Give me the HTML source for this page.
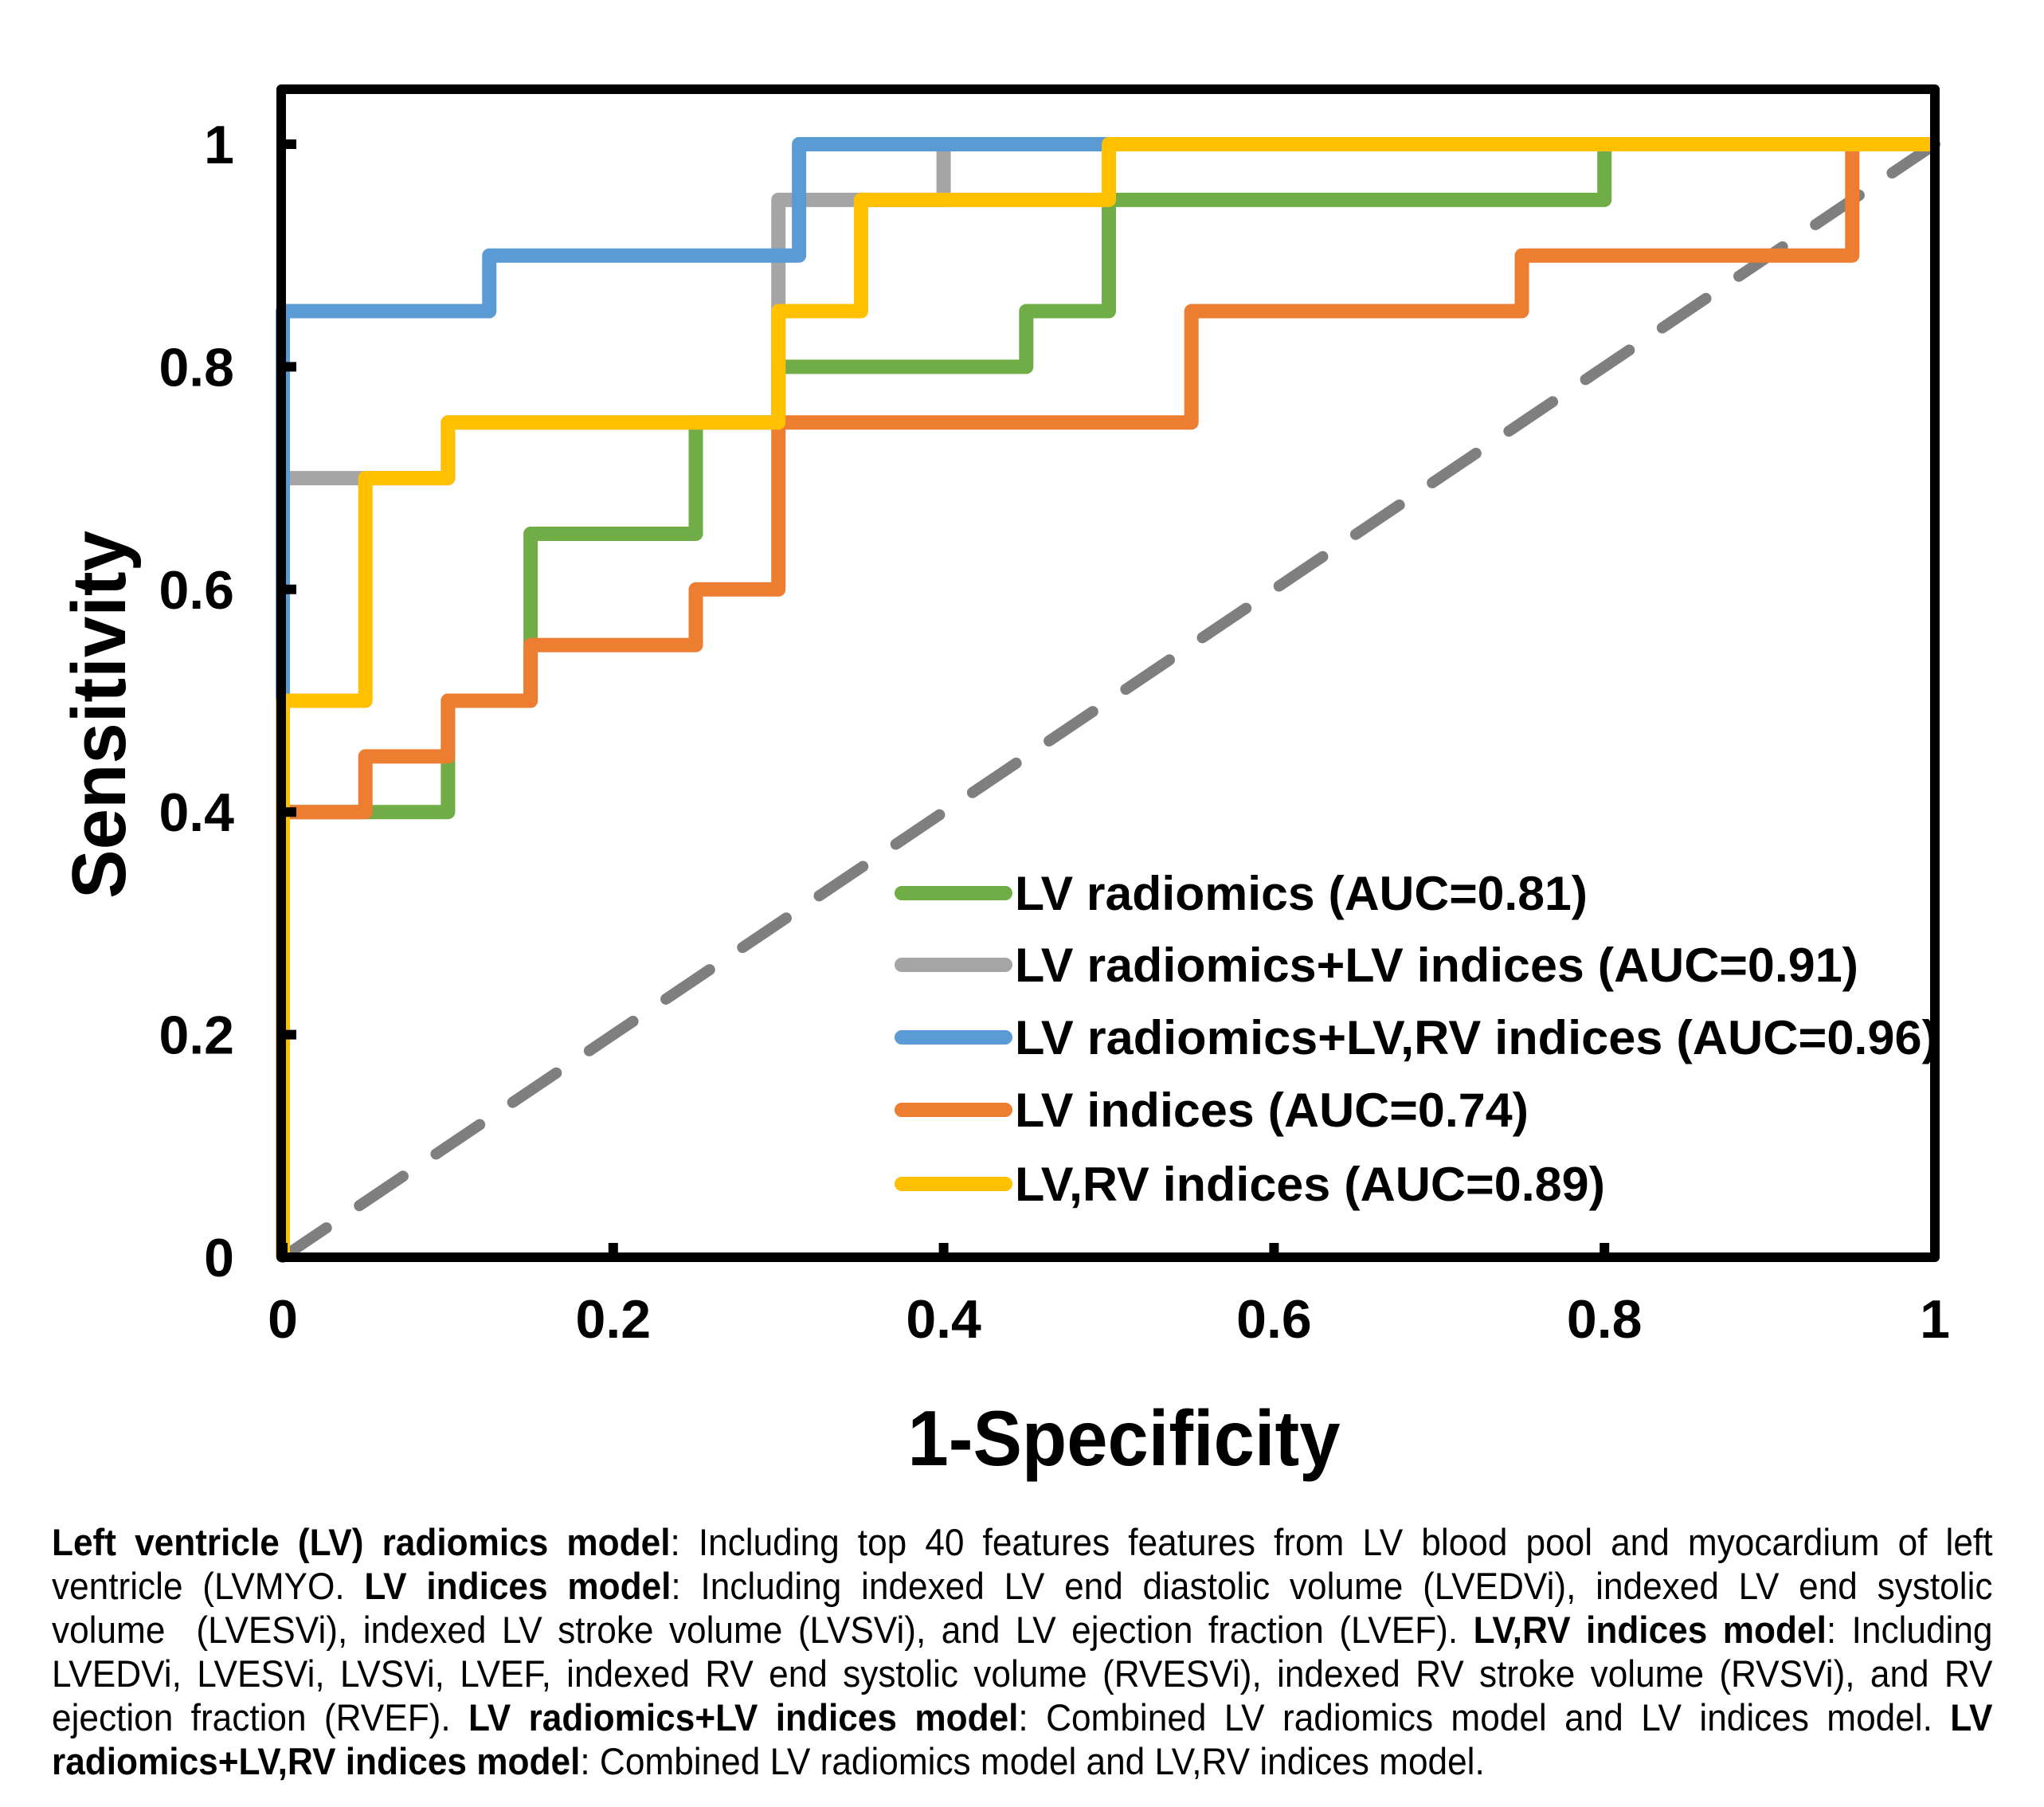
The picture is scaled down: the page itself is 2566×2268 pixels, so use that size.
<!DOCTYPE html>
<html><head><meta charset="utf-8">
<style>
html,body{margin:0;padding:0;background:#fff;}
body{width:2566px;height:2268px;position:relative;overflow:hidden;font-family:"Liberation Sans",Arial,sans-serif;}
#chart{position:absolute;left:0;top:0;}
.cap{position:absolute;left:65px;width:2592px;font-size:47px;line-height:55px;height:55px;text-align:justify;text-align-last:justify;white-space:nowrap;overflow:visible;color:#000;transform:scale(0.94,1);transform-origin:0 0;}
.cap.last{text-align-last:left;text-align:left;}
</style></head>
<body>
<svg id="chart" width="2566" height="1900" xmlns="http://www.w3.org/2000/svg"></svg>

<div class="cap" style="top:1908px"><b>Left ventricle (LV) radiomics model</b>: Including top 40 features features from LV blood pool and myocardium of left</div>
<div class="cap" style="top:1963px">ventricle (LVMYO. <b>LV indices model</b>: Including indexed LV end diastolic volume (LVEDVi), indexed LV end systolic</div>
<div class="cap" style="top:2018px">volume &nbsp;(LVESVi), indexed LV stroke volume (LVSVi), and LV ejection fraction (LVEF). <b>LV,RV indices model</b>: Including</div>
<div class="cap" style="top:2073px">LVEDVi, LVESVi, LVSVi, LVEF, indexed RV end systolic volume (RVESVi), indexed RV stroke volume (RVSVi), and RV</div>
<div class="cap" style="top:2128px">ejection fraction (RVEF). <b>LV radiomics+LV indices model</b>: Combined LV radiomics model and LV indices model. <b>LV</b></div>
<div class="cap last" style="top:2183px"><b>radiomics+LV,RV indices model</b>: Combined LV radiomics model and LV,RV indices model.</div>

<script>
const xTicks = [0, 0.2, 0.4, 0.6, 0.8, 1];
const yTicks = [0, 0.2, 0.4, 0.6, 0.8, 1];
const xTickLabels = ["0", "0.2", "0.4", "0.6", "0.8", "1"];
const yTickLabels = ["0", "0.2", "0.4", "0.6", "0.8", "1"];
const seriesNames = ["LV radiomics (AUC=0.81)", "LV radiomics+LV indices (AUC=0.91)", "LV radiomics+LV,RV indices (AUC=0.96)", "LV indices (AUC=0.74)", "LV,RV indices (AUC=0.89)"];
const seriesColors = ["#70AD47", "#A5A5A5", "#5B9BD5", "#ED7D31", "#FFC000"];
const greenFpr = [0, 0, 0.1, 0.1, 0.15, 0.15, 0.25, 0.25, 0.3, 0.3, 0.45, 0.45, 0.5, 0.5, 0.8, 0.8, 1];
const greenTpr = [0, 0.4, 0.4, 0.5, 0.5, 0.65, 0.65, 0.75, 0.75, 0.8, 0.8, 0.85, 0.85, 0.95, 0.95, 1, 1];
const grayFpr = [0, 0, 0.05, 0.1, 0.1, 0.3, 0.3, 0.4, 0.4, 1];
const grayTpr = [0, 0.7, 0.7, 0.7, 0.75, 0.75, 0.95, 0.95, 1, 1];
const blueFpr = [0, 0, 0.125, 0.125, 0.3125, 0.3125, 1];
const blueTpr = [0, 0.85, 0.85, 0.9, 0.9, 1, 1];
const orangeFpr = [0, 0, 0.05, 0.05, 0.1, 0.1, 0.15, 0.15, 0.25, 0.25, 0.3, 0.3, 0.55, 0.55, 0.75, 0.75, 0.95, 0.95, 1];
const orangeTpr = [0, 0.4, 0.4, 0.45, 0.45, 0.5, 0.5, 0.55, 0.55, 0.6, 0.6, 0.75, 0.75, 0.85, 0.85, 0.9, 0.9, 1, 1];
const yellowFpr = [0, 0, 0.05, 0.05, 0.1, 0.1, 0.3, 0.3, 0.35, 0.35, 0.5, 0.5, 1];
const yellowTpr = [0, 0.5, 0.5, 0.7, 0.7, 0.75, 0.75, 0.85, 0.85, 0.95, 0.95, 1, 1];
const diagX = [0, 1];
const diagY = [0, 1];

const svg = document.getElementById('chart');
const NS = 'http://www.w3.org/2000/svg';
const X0 = 355, X1 = 2429, Y0 = 1578, Y1 = 181;
function sx(v){ return X0 + v * (X1 - X0); }
function sy(v){ return Y0 - v * (Y0 - Y1); }
function mk(tag, attrs){ const e = document.createElementNS(NS, tag); for (const k in attrs) e.setAttribute(k, attrs[k]); return e; }

const diag = mk('polyline', {points: diagX.map((x,i)=>sx(x)+','+sy(diagY[i])).join(' '), fill:'none', stroke:'#7F7F7F', 'stroke-width':14, 'stroke-dasharray':'66 50', 'stroke-linecap':'round'});


svg.appendChild(diag);

const xs = [greenFpr, grayFpr, blueFpr, orangeFpr, yellowFpr];
const ys = [greenTpr, grayTpr, blueTpr, orangeTpr, yellowTpr];
const lineNames = ['lv-radiomics-curve', 'lv-radiomics-lv-indices-curve', 'lv-radiomics-lv-rv-indices-curve', 'lv-indices-curve', 'lv-rv-indices-curve'];
for (let s = 0; s < xs.length; s++) {
  const pts = xs[s].map((x,i)=>sx(x)+','+sy(ys[s][i])).join(' ');
  const pl = mk('polyline', {points: pts, fill:'none', stroke: seriesColors[s], 'stroke-width':18, 'stroke-linejoin':'round', 'stroke-linecap':'butt'});
  
  
  svg.appendChild(pl);
}

const frame = mk('rect', {x:353, y:112, width:2076, height:1466, fill:'none', stroke:'#000', 'stroke-width':12, 'stroke-linejoin':'round'});


svg.appendChild(frame);

yTicks.forEach((v,i)=>{
  const t = mk('line', {x1:353, x2:372, y1:sy(v), y2:sy(v), stroke:'#000', 'stroke-width':12});
  
  
  svg.appendChild(t);
  const lb = mk('text', {x:294, y:sy(v)+24, 'text-anchor':'end', 'font-size':68, 'font-weight':'bold', 'font-family':'Liberation Sans, Arial, sans-serif'});
  lb.textContent = yTickLabels[i];
  
  
  svg.appendChild(lb);
});
xTicks.forEach((v,i)=>{
  const t = mk('line', {x1:sx(v), x2:sx(v), y1:1578, y2:1560, stroke:'#000', 'stroke-width':12});
  
  
  svg.appendChild(t);
  const lb = mk('text', {x:sx(v), y:1679, 'text-anchor':'middle', 'font-size':68, 'font-weight':'bold', 'font-family':'Liberation Sans, Arial, sans-serif'});
  lb.textContent = xTickLabels[i];
  
  
  svg.appendChild(lb);
});

const xt = mk('text', {x:1411, y:1839, 'text-anchor':'middle', 'font-size':98, 'font-weight':'bold', 'font-family':'Liberation Sans, Arial, sans-serif', textLength:543, lengthAdjust:'spacingAndGlyphs'});
xt.textContent = '1-Specificity';


svg.appendChild(xt);
const yt = mk('text', {x:0, y:0, 'text-anchor':'middle', 'font-size':96, 'font-weight':'bold', 'font-family':'Liberation Sans, Arial, sans-serif', textLength:462, lengthAdjust:'spacingAndGlyphs', transform:'translate(157,897) rotate(-90)'});
yt.textContent = 'Sensitivity';


svg.appendChild(yt);

const legY = [1121, 1211, 1302, 1393, 1486];
const legW = [719, 1059, 1159, 645, 741];
for (let s = 0; s < seriesNames.length; s++) {
  const sw = mk('line', {x1:1132, x2:1262, y1:legY[s], y2:legY[s], stroke:seriesColors[s], 'stroke-width':18, 'stroke-linecap':'round'});
  
  
  svg.appendChild(sw);
  const tx = mk('text', {x:1274, y:legY[s]+21, 'font-size':60, 'font-weight':'bold', 'font-family':'Liberation Sans, Arial, sans-serif', textLength:legW[s], lengthAdjust:'spacingAndGlyphs'});
  tx.textContent = seriesNames[s];
  
  
  svg.appendChild(tx);
}
</script>
</body></html>
